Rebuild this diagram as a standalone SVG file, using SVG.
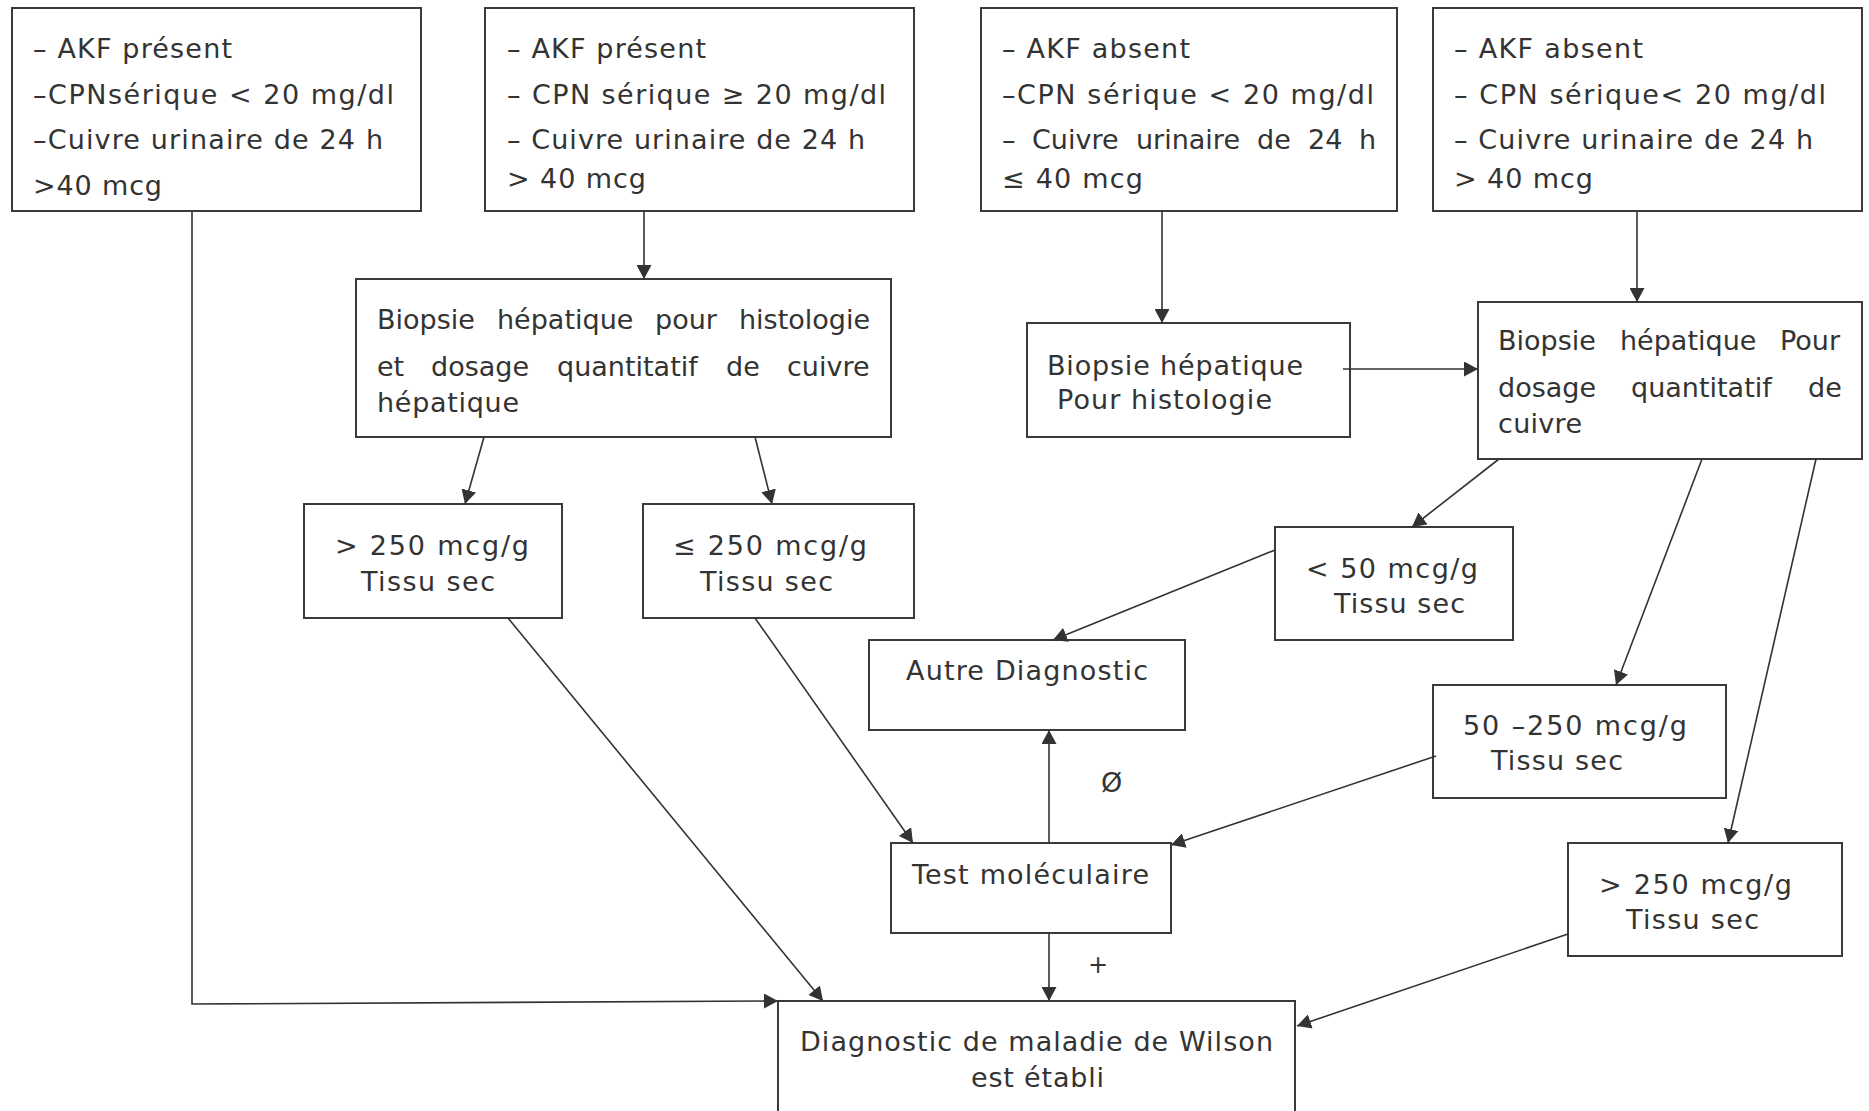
<svg xmlns="http://www.w3.org/2000/svg" width="1869" height="1111" viewBox="0 0 1869 1111">
<style>
.box{fill:#fff;stroke:#3a3a3a;stroke-width:2}
.t{font-family:"DejaVu Sans","Liberation Sans",sans-serif;font-size:27px;fill:#333}
.edge{fill:none;stroke:#333;stroke-width:1.6;marker-end:url(#ah)}
</style>
<defs>
<marker id="ah" markerUnits="userSpaceOnUse" markerWidth="15" markerHeight="15" viewBox="0 0 15 15" refX="14" refY="7.5" orient="auto">
<path d="M0,0 L14,7.5 L0,15 z" fill="#333"/>
</marker>
</defs>
<rect width="1869" height="1111" fill="#fff"/>

<g id="nA">
<rect class="box" x="12" y="8" width="409" height="203"/>
<text class="t" x="33" y="58" textLength="199">– AKF présent</text>
<text class="t" x="33" y="104" textLength="361">–CPNsérique &lt; 20 mg/dl</text>
<text class="t" x="33" y="149" textLength="350">–Cuivre urinaire de 24 h</text>
<text class="t" x="33" y="195" textLength="129">&gt;40 mcg</text>
</g>

<g id="nB">
<rect class="box" x="485" y="8" width="429" height="203"/>
<text class="t" x="507" y="58" textLength="199">– AKF présent</text>
<text class="t" x="507" y="104" textLength="379">– CPN sérique ≥ 20 mg/dl</text>
<text class="t" x="507" y="149" textLength="358">– Cuivre urinaire de 24 h</text>
<text class="t" x="507" y="188" textLength="139">&gt; 40 mcg</text>
</g>

<g id="nC">
<rect class="box" x="981" y="8" width="416" height="203"/>
<text class="t" x="1002" y="58" textLength="188">– AKF absent</text>
<text class="t" x="1002" y="104" textLength="372">–CPN sérique &lt; 20 mg/dl</text>
<text class="t" y="149"><tspan x="1002">–</tspan><tspan x="1032">Cuivre</tspan><tspan x="1136">urinaire</tspan><tspan x="1257">de</tspan><tspan x="1308">24</tspan><tspan x="1359">h</tspan></text>
<text class="t" x="1002" y="188" textLength="141">≤ 40 mcg</text>
</g>

<g id="nD">
<rect class="box" x="1433" y="8" width="429" height="203"/>
<text class="t" x="1454" y="58" textLength="189">– AKF absent</text>
<text class="t" x="1454" y="104" textLength="372">– CPN sérique&lt; 20 mg/dl</text>
<text class="t" x="1454" y="149" textLength="359">– Cuivre urinaire de 24 h</text>
<text class="t" x="1454" y="188" textLength="139">&gt; 40 mcg</text>
</g>

<g id="nE">
<rect class="box" x="356" y="279" width="535" height="158"/>
<text class="t" y="329"><tspan x="377">Biopsie</tspan><tspan x="497">hépatique</tspan><tspan x="655">pour</tspan><tspan x="739">histologie</tspan></text>
<text class="t" y="376"><tspan x="377">et</tspan><tspan x="431">dosage</tspan><tspan x="557">quantitatif</tspan><tspan x="726">de</tspan><tspan x="787">cuivre</tspan></text>
<text class="t" x="377" y="412" textLength="142">hépatique</text>
</g>

<g id="nF">
<rect class="box" x="1027" y="323" width="323" height="114"/>
<text class="t" x="1047" y="375" textLength="256">Biopsie hépatique</text>
<text class="t" x="1057" y="409" textLength="215">Pour histologie</text>
</g>

<g id="nG">
<rect class="box" x="1478" y="302" width="384" height="157"/>
<text class="t" y="350"><tspan x="1498">Biopsie</tspan><tspan x="1620">hépatique</tspan><tspan x="1780">Pour</tspan></text>
<text class="t" y="397"><tspan x="1498">dosage</tspan><tspan x="1631">quantitatif</tspan><tspan x="1808">de</tspan></text>
<text class="t" x="1498" y="433" textLength="84">cuivre</text>
</g>

<g id="nH">
<rect class="box" x="304" y="504" width="258" height="114"/>
<text class="t" x="335" y="555" textLength="194">&gt; 250 mcg/g</text>
<text class="t" x="361" y="591" textLength="134">Tissu sec</text>
</g>

<g id="nI">
<rect class="box" x="643" y="504" width="271" height="114"/>
<text class="t" x="673" y="555" textLength="194">≤ 250 mcg/g</text>
<text class="t" x="700" y="591" textLength="133">Tissu sec</text>
</g>

<g id="nJ">
<rect class="box" x="869" y="640" width="316" height="90"/>
<text class="t" x="906" y="680" textLength="242">Autre Diagnostic</text>
</g>

<g id="nK">
<rect class="box" x="891" y="843" width="280" height="90"/>
<text class="t" x="912" y="884" textLength="237">Test moléculaire</text>
</g>

<g id="nL">
<rect class="box" x="778" y="1001" width="517" height="140"/>
<text class="t" x="800" y="1051" textLength="473">Diagnostic de maladie de Wilson</text>
<text class="t" x="971" y="1087" textLength="133">est établi</text>
</g>

<g id="nM">
<rect class="box" x="1275" y="527" width="238" height="113"/>
<text class="t" x="1306" y="578" textLength="172">&lt; 50 mcg/g</text>
<text class="t" x="1334" y="613" textLength="131">Tissu sec</text>
</g>

<g id="nN">
<rect class="box" x="1433" y="685" width="293" height="113"/>
<text class="t" x="1463" y="735" textLength="224">50 –250 mcg/g</text>
<text class="t" x="1491" y="770" textLength="132">Tissu sec</text>
</g>

<g id="nO">
<rect class="box" x="1568" y="843" width="274" height="113"/>
<text class="t" x="1599" y="894" textLength="193">&gt; 250 mcg/g</text>
<text class="t" x="1626" y="929" textLength="133">Tissu sec</text>
</g>

<g id="connectors">
<path class="edge" d="M192,211 L192,1004 L778,1001"/>
<path class="edge" d="M644,211 L644,279"/>
<path class="edge" d="M484,437 L465,504"/>
<path class="edge" d="M755,437 L772,504"/>
<path class="edge" d="M1162,211 L1162,323"/>
<path class="edge" d="M1343,369 L1478,369"/>
<path class="edge" d="M1637,211 L1637,302"/>
<path class="edge" d="M1499,459 L1412,527"/>
<path class="edge" d="M1702,459 L1616,685"/>
<path class="edge" d="M1816,459 L1728,843"/>
<path class="edge" d="M1275,550 L1053,640"/>
<path class="edge" d="M1436,756 L1171,845"/>
<path class="edge" d="M1568,934 L1297,1026"/>
<path class="edge" d="M1049,843 L1049,730"/>
<path class="edge" d="M1049,933 L1049,1001"/>
<path class="edge" d="M508,618 L823,1001"/>
<path class="edge" d="M755,618 L913,843"/>
<text class="t" x="1101" y="792">Ø</text>
<text class="t" x="1098" y="973" text-anchor="middle" style="font-size:24px">+</text>
</g>
</svg>
